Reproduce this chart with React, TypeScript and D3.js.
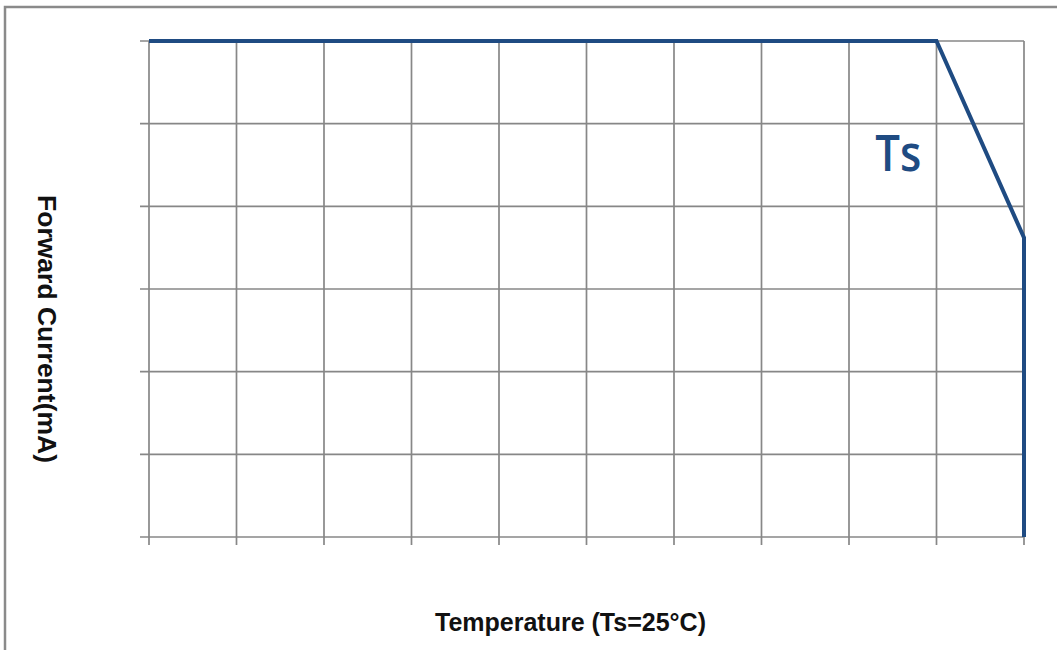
import React from "react";
import * as d3 from "d3";

const xTicks = [0, 1, 2, 3, 4, 5, 6, 7, 8, 9, 10];
const yTicks = [0, 1, 2, 3, 4, 5, 6];
const curveX = [0, 9, 10, 10];
const curveY = [6, 6, 3.62, 0];
const labelText = "Ts";
const labelX = 8.3;
const labelY = 4.43;
const xTitle = "Temperature (Ts=25°C)";
const yTitle = "Forward Current(mA)";

const W = 1057;
const H = 650;
const M = { left: 149, right: 1024, top: 41, bottom: 537 };

export default function App() {
  const x = d3.scaleLinear().domain([0, 10]).range([M.left, M.right]);
  const y = d3.scaleLinear().domain([0, 6]).range([M.bottom, M.top]);
  const pts: [number, number][] = curveX.map((v, i) => [v, curveY[i]]);
  const line = d3
    .line<[number, number]>()
    .x((d) => x(d[0]))
    .y((d) => y(d[1]));
  const grid = "#878787";
  const font = "'Liberation Sans Narrow', 'Liberation Sans', Arial, sans-serif";
  return (
    <svg
      width={W}
      height={H}
      style={{ position: "absolute", left: 0, top: 0, background: "#fff" }}
    >
      <rect x={5} y={7} width={W + 20} height={H + 20} fill="#fff" stroke="#8a8a8a" strokeWidth={2.5} />
      {yTicks.map((t) => (
        <line key={"gy" + t} x1={M.left - 9} x2={M.right} y1={y(t)} y2={y(t)} stroke={grid} strokeWidth={1.7} />
      ))}
      {xTicks.map((t) => (
        <line key={"gx" + t} x1={x(t)} x2={x(t)} y1={M.top} y2={M.bottom + 8} stroke={grid} strokeWidth={1.7} />
      ))}
      <path d={line(pts) || ""} fill="none" stroke="#1f4b82" strokeWidth={4} strokeLinejoin="miter" />
      <text
        x={x(labelX)}
        y={y(labelY)}
        fill="#1f4b82"
        fontSize={50}
        fontWeight={600}
        textLength={46}
        lengthAdjust="spacingAndGlyphs"
        fontFamily="'Open Sans', Lato, sans-serif"
      >
        {labelText}
      </text>
      <text
        x={(M.left + M.right) / 2 - 16}
        y={631}
        textAnchor="middle"
        fontSize={25}
        fontWeight="bold"
        fontFamily={font}
        fill="#111"
      >
        {xTitle}
      </text>
      <text
        transform={`translate(38,${329}) rotate(90)`}
        textAnchor="middle"
        fontSize={26.5}
        fontWeight="bold"
        fontFamily={font}
        fill="#111"
      >
        {yTitle}
      </text>
    </svg>
  );
}
